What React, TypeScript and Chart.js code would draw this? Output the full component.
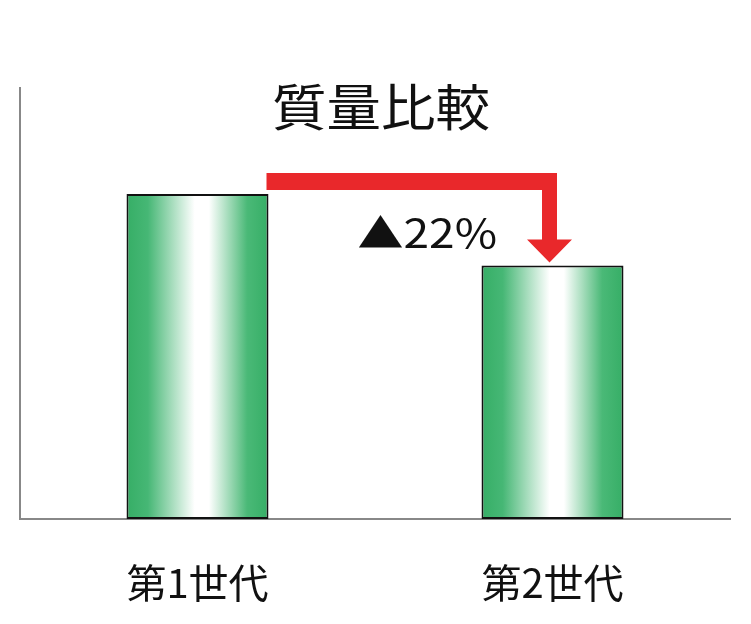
import React, { useEffect, useRef } from "react";
import { Chart, registerables, Plugin } from "chart.js";

Chart.register(...registerables);

const chartTitle = "質量比較";
const categories = ["第1世代", "第2世代"];
const massValues = [100, 78];
const changeLabel = "▲22%";
const yAxisMax = 132.6;

const JP_FONT = '"Noto Sans CJK JP", "Noto Sans", sans-serif';

// green - white - green cylinder look across each bar
const barGradient = (chart: Chart, index: number) => {
    const xScale = chart.scales.x;
    if (!chart.chartArea || !xScale) return "#3bb26a";
    const center = xScale.getPixelForValue(index);
    const half = (xScale.width / categories.length) * 0.8 * 0.5 * 0.5;
    const g = chart.ctx.createLinearGradient(center - half, 0, center + half, 0);
    g.addColorStop(0, "#36ae66");
    g.addColorStop(0.15, "#46b775");
    g.addColorStop(0.48, "#ffffff");
    g.addColorStop(0.58, "#ffffff");
    g.addColorStop(0.85, "#4ab977");
    g.addColorStop(1, "#36ae66");
    return g;
};

// the source picture is stretched sideways a little, so text gets a x-scale
const stretchedText = (
    ctx: CanvasRenderingContext2D,
    text: string,
    x: number,
    y: number,
    sx: number
) => {
    ctx.save();
    ctx.translate(x, y);
    ctx.scale(sx, 1);
    ctx.fillText(text, 0, 0);
    ctx.restore();
};

const annotationPlugin: Plugin<"bar"> = {
    id: "massAnnotations",
    afterDatasetsDraw(chart) {
        const { ctx, chartArea } = chart;
        const meta = chart.getDatasetMeta(0);
        const first = meta.data[0] as any;
        const second = meta.data[1] as any;
        if (!first || !second) return;

        ctx.save();

        // title
        ctx.fillStyle = "#111";
        ctx.font = `50px ${JP_FONT}`;
        ctx.textAlign = "center";
        ctx.textBaseline = "middle";
        stretchedText(ctx, chartTitle, (chartArea.left + chartArea.right) / 2 + 6, chartArea.top + 19, 1.09);

        // red arrow from bar 1 to bar 2
        const startX = first.x + first.width / 2 - 2;
        const bandTop = first.y - 21;
        const bandH = 17;
        const cx = second.x - 3;
        const shaftL = cx - 7.5;
        const shaftR = cx + 7.5;
        const tipY = second.y - 3;
        const headTop = tipY - 23;
        const headHalf = 22.5;

        ctx.fillStyle = "#e9282b";
        ctx.beginPath();
        ctx.moveTo(startX, bandTop);
        ctx.lineTo(shaftR, bandTop);
        ctx.lineTo(shaftR, headTop);
        ctx.lineTo(cx + headHalf, headTop);
        ctx.lineTo(cx, tipY);
        ctx.lineTo(cx - headHalf, headTop);
        ctx.lineTo(shaftL, headTop);
        ctx.lineTo(shaftL, bandTop + bandH);
        ctx.lineTo(startX, bandTop + bandH);
        ctx.closePath();
        ctx.fill();

        // change label
        ctx.fillStyle = "#111";
        ctx.font = `40px ${JP_FONT}`;
        ctx.textAlign = "right";
        ctx.textBaseline = "alphabetic";
        stretchedText(ctx, changeLabel, shaftL - 45, second.y - 17, 1.15);

        ctx.restore();
    },
};

const App: React.FC = () => {
    const chartRef = useRef<HTMLCanvasElement | null>(null);

    useEffect(() => {
        if (!chartRef.current) return;
        const ctx = chartRef.current.getContext("2d");
        if (!ctx) return;

        const chart = new Chart(ctx, {
            type: "bar",
            data: {
                labels: categories,
                datasets: [
                    {
                        label: chartTitle,
                        data: massValues,
                        backgroundColor: (c: any) => barGradient(c.chart, c.dataIndex),
                        borderColor: "#111",
                        borderWidth: 2,
                        borderSkipped: false,
                        categoryPercentage: 0.8,
                        barPercentage: 0.5,
                    },
                ],
            },
            options: {
                responsive: false,
                animation: false,
                layout: {
                    padding: { left: 20, right: 21, top: 88, bottom: 0 },
                },
                plugins: {
                    legend: { display: false },
                    title: { display: false },
                    tooltip: { enabled: false },
                },
                scales: {
                    x: {
                        grid: { display: false, drawTicks: false },
                        border: { display: true, color: "#888", width: 2 },
                        ticks: {
                            color: "#111",
                            padding: 40,
                            maxRotation: 0,
                            font: { family: JP_FONT, size: 40 },
                        },
                        afterFit: (scale: any) => {
                            scale.height = 105;
                        },
                    },
                    y: {
                        min: 0,
                        max: yAxisMax,
                        grid: { display: false, drawTicks: false },
                        border: { display: true, color: "#888", width: 2 },
                        ticks: { display: false },
                    },
                },
            },
            plugins: [annotationPlugin],
        });

        return () => {
            chart.destroy();
        };
    }, []);

    return (
        <div style={{ position: "absolute", left: 0, top: 0, width: 751, height: 624, background: "#fff" }}>
            <canvas ref={chartRef} width={751} height={624} style={{ display: "block" }}></canvas>
        </div>
    );
};

export default App;
